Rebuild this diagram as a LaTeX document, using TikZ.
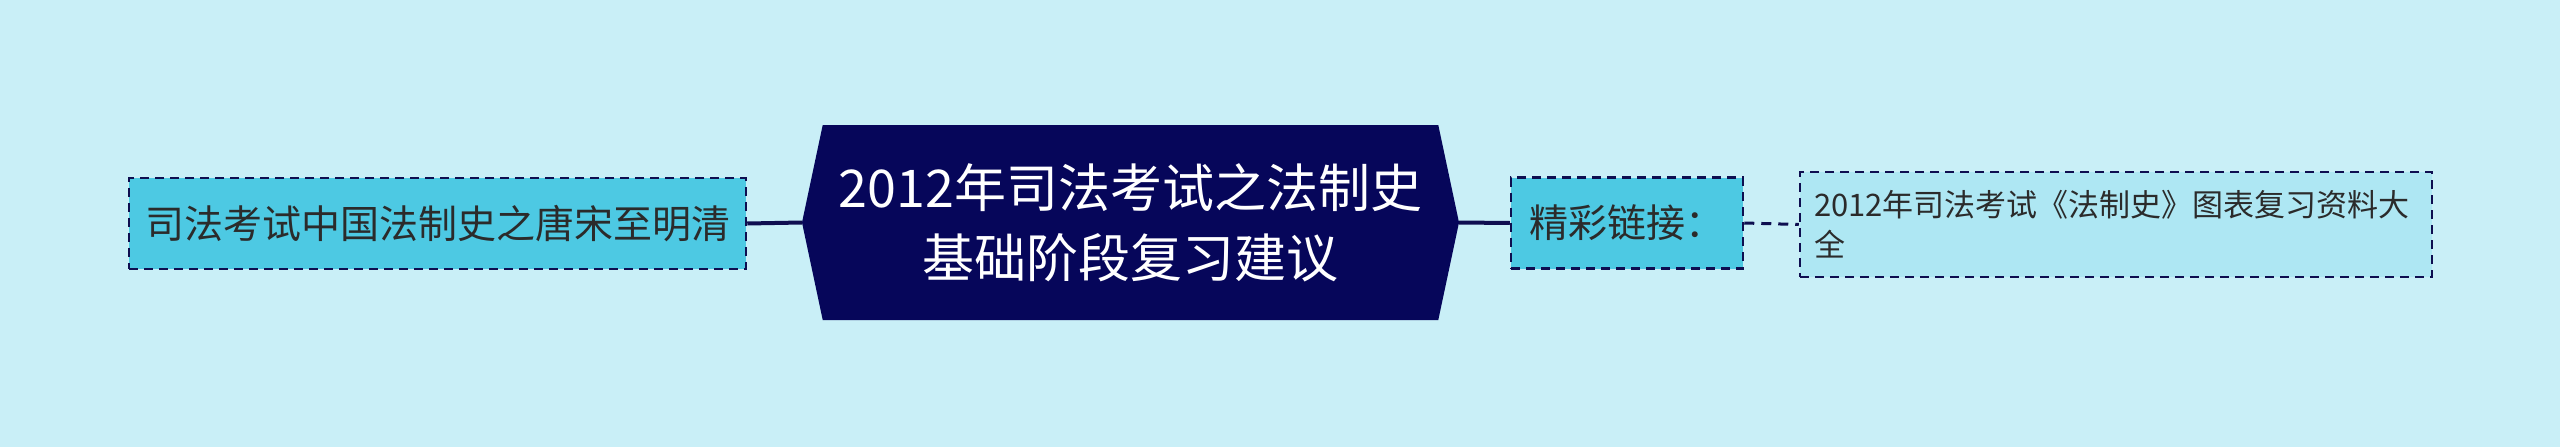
\documentclass[tikz,border=0pt]{standalone}
\usepackage{fontspec}
\usetikzlibrary{shapes.symbols}
\newfontfamily\cjk{Noto Sans CJK SC}
\definecolor{bgblue}{HTML}{C9EFF7}
\definecolor{rootnavy}{HTML}{06065A}
\definecolor{subcyan}{HTML}{4DC9E3}
\definecolor{leafcyan}{HTML}{AEE7F3}
\definecolor{edgenavy}{HTML}{0E0E50}
\definecolor{inkgray}{HTML}{2B2B2B}

\begin{document}
\begin{tikzpicture}[
  x=1pt, y=-1pt,
  % GLOBAL CFG
  font=\cjk,
  % Styles
  root/.style={% For the central topic
      signal,
      signal to=west and east,
      signal pointer angle=156,
      fill=rootnavy,
      text=white,
      minimum width=657pt,
      minimum height=195pt,
      inner sep=0pt,
      align=center,
      font=\cjk\fontsize{52}{70}\selectfont,
      },
  sub/.style={% For the first level topics
      rectangle,
      draw=edgenavy,
      fill=subcyan,
      text=inkgray,
      line width=2.5pt,
      dash pattern=on 9pt off 6pt,
      minimum height=91pt,
      inner xsep=16pt,
      font=\cjk\fontsize{39}{46}\selectfont,
      },
  leaf/.style={% For the link box
      rectangle,
      draw=edgenavy,
      fill=leafcyan,
      text=inkgray,
      line width=2.5pt,
      dash pattern=on 9pt off 6pt,
      minimum height=105pt,
      text width=604pt,
      inner xsep=14pt,
      align=left,
      font=\cjk\fontsize{31}{40}\selectfont,
      },
  trunk/.style={% Solid joins to the root
      draw=edgenavy,
      line width=4pt,
      },
  twig/.style={% Dashed join to the leaf
      draw=edgenavy,
      line width=3pt,
      dash pattern=on 10pt off 7pt,
      },
  ]

  % Background and frame
  \useasboundingbox [fill=bgblue] (0,0) rectangle (2560,447);

  % Draw the topics:
  \node [root] (root) at (1130.5,222.5) {2012年司法考试之法制史\\基础阶段复习建议};
  \node [sub, minimum width=617pt] (tang) at (437.5,223.5) {司法考试中国法制史之唐宋至明清};
  \node [sub, minimum width=232pt] (links) at (1627,223) {精彩链接：};
  \node [leaf] (chart) at (2116,224.5) {2012年司法考试《法制史》图表复习资料大\\全};

  \draw [trunk] (tang.east) -- (root.west);
  \draw [trunk] (root.east) -- (links.west);
  \draw [twig] (links.east) -- (chart.west);

\end{tikzpicture}
\end{document}
